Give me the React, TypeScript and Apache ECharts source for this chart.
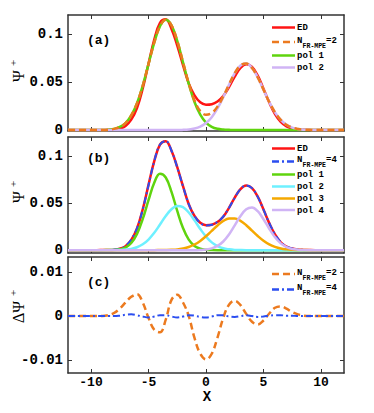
import React, { useEffect, useRef } from "react";
import * as echarts from "echarts";

// x grid (step 0.5)
const xs = [-12,-11.5,-11,-10.5,-10,-9.5,-9,-8.5,-8,-7.5,-7,-6.5,-6,-5.5,-5,-4.5,-4,-3.5,-3,-2.5,-2,-1.5,-1,-0.5,0,0.5,1,1.5,2,2.5,3,3.5,4,4.5,5,5.5,6,6.5,7,7.5,8,8.5,9,9.5,10,10.5,11,11.5,12];

// exact diagonalization
const ed = [0,0,0,0,0,0,0.0001,0.0002,0.0005,0.0015,0.0042,0.0108,0.0230,0.0434,0.0692,0.0944,0.1119,0.1155,0.1055,0.0880,0.0678,0.0487,0.0362,0.0290,0.0265,0.0270,0.0298,0.0355,0.0449,0.0558,0.0648,0.0685,0.0658,0.0567,0.0431,0.0287,0.0166,0.0084,0.0038,0.0017,0.0007,0.0003,0.0001,0,0,0,0,0,0];
// FR-MPE with 2 polarons, panel (a)
const n2 = [0,0,0,0,0,0,0.0001,0.0004,0.0012,0.0032,0.0073,0.0152,0.0280,0.0464,0.0688,0.0913,0.1083,0.1150,0.1093,0.0929,0.0709,0.0487,0.0309,0.0198,0.0160,0.0178,0.0245,0.0350,0.0475,0.0593,0.0673,0.0693,0.0647,0.0548,0.0421,0.0293,0.0185,0.0106,0.0055,0.0026,0.0011,0.0004,0.0002,0,0,0,0,0,0];
const aPol1 = [0,0,0,0,0,0,0.0001,0.0004,0.0012,0.0032,0.0073,0.0152,0.0280,0.0464,0.0688,0.0913,0.1083,0.1150,0.1093,0.0929,0.0707,0.0481,0.0293,0.0160,0.0078,0.0034,0.0013,0.0005,0.0002,0,0,0,0,0,0,0,0,0,0,0,0,0,0,0,0,0,0,0,0];
const aPol2 = [0,0,0,0,0,0,0,0,0,0,0,0,0,0,0,0,0,0,0,0,0.0002,0.0006,0.0016,0.0036,0.0073,0.0134,0.0225,0.0343,0.0473,0.0593,0.0673,0.0693,0.0647,0.0548,0.0421,0.0293,0.0185,0.0106,0.0055,0.0026,0.0011,0.0004,0.0002,0,0,0,0,0,0];
// FR-MPE with 4 polarons, panel (b)
const n4 = [0,0,0,0,0,0,0.0001,0.0002,0.0005,0.0016,0.0045,0.0112,0.0232,0.0433,0.0689,0.0943,0.1121,0.1157,0.1054,0.0877,0.0677,0.0489,0.0363,0.0288,0.0262,0.0269,0.0300,0.0357,0.0448,0.0556,0.0648,0.0687,0.0658,0.0565,0.0430,0.0288,0.0168,0.0086,0.0039,0.0018,0.0007,0.0003,0.0001,0,0,0,0,0,0];
const bPol1 = [0,0,0,0,0,0,0,0.0001,0.0002,0.0009,0.0028,0.0076,0.0173,0.0331,0.0530,0.0715,0.0810,0.0771,0.0618,0.0416,0.0235,0.0112,0.0045,0.0015,0.0004,0.0001,0,0,0,0,0,0,0,0,0,0,0,0,0,0,0,0,0,0,0,0,0,0,0];
const bPol2 = [0,0,0,0,0,0,0,0,0.0001,0.0002,0.0006,0.0014,0.0031,0.0062,0.0113,0.0184,0.0272,0.0362,0.0434,0.0469,0.0456,0.0400,0.0316,0.0225,0.0144,0.0083,0.0044,0.0020,0.0009,0.0003,0.0001,0,0,0,0,0,0,0,0,0,0,0,0,0,0,0,0,0,0];
const bPol3 = [0,0,0,0,0,0,0,0,0,0,0,0,0,0,0,0,0.0001,0.0002,0.0004,0.0008,0.0018,0.0034,0.0060,0.0098,0.0148,0.0205,0.0262,0.0309,0.0336,0.0337,0.0311,0.0265,0.0207,0.0150,0.0100,0.0061,0.0035,0.0018,0.0009,0.0004,0.0002,0.0001,0,0,0,0,0,0,0];
const bPol4 = [0,0,0,0,0,0,0,0,0,0,0,0,0,0,0,0,0,0,0,0,0,0,0,0.0002,0.0007,0.0019,0.0045,0.0092,0.0167,0.0263,0.0362,0.0434,0.0453,0.0413,0.0328,0.0227,0.0137,0.0072,0.0033,0.0013,0.0005,0.0001,0,0,0,0,0,0,0];
// differences to ED, panel (c)
const d2 = [0,0,0,0,0,0,0,0.0002,0.0007,0.0017,0.0031,0.0044,0.0050,0.0031,-0.0004,-0.0031,-0.0037,-0.0008,0.0037,0.0049,0.0031,0.0000,-0.0050,-0.0086,-0.0099,-0.0086,-0.0049,-0.0004,0.0026,0.0035,0.0025,0.0005,-0.0013,-0.0019,-0.0010,0.0006,0.0019,0.0022,0.0017,0.0009,0.0004,0.0001,0,0,0,0,0,0,0];
const d4 = [0,0,0,0,0,0,0,0,0,0.0001,0.0003,0.0004,0.0002,-0.0001,-0.0003,-0.0001,0.0002,0.0002,-0.0001,-0.0003,-0.0001,0.0002,0.0001,-0.0002,-0.0003,-0.0001,0.0002,0.0002,-0.0001,-0.0002,0.0000,0.0002,0.0000,-0.0002,-0.0001,0.0001,0.0002,0.0002,0.0001,0.0001,0,0,0,0,0,0,0,0,0];

const xTicks = [-10, -5, 0, 5, 10];
const psiTicks = [0, 0.05, 0.1];
const deltaTicks = [-0.01, 0, 0.01];

const RED = "#ff1414";
const ORANGE = "#ec7a1f";
const BLUE = "#2b4ef0";
const GREEN = "#5fd40e";
const LILAC = "#d0b4f5";
const CYAN = "#6ef0ff";
const GOLD = "#f5a800";
const FRAME = "#333";
const MONO = '"Liberation Mono", "DejaVu Sans Mono", monospace';

const zip = (v: number[]) => xs.map((x, i) => [x, v[i]]);

function line(name: string, vals: number[], g: number, color: string, width: number, dash?: number[]) {
  return {
    name,
    type: "line",
    xAxisIndex: 2 * g,
    yAxisIndex: 2 * g,
    data: zip(vals),
    smooth: 0.4,
    showSymbol: false,
    symbol: "none",
    lineStyle: { color, width, type: dash ? dash : "solid", cap: "butt" },
    silent: true,
  };
}

const grids = [
  { left: 68, top: 15, width: 276, height: 116 },
  { left: 68, top: 137, width: 276, height: 116 },
  { left: 68, top: 257, width: 276, height: 116 },
];
const yRanges = [
  [-0.001, 0.12],
  [-0.003, 0.12],
  [-0.013, 0.0135],
];

function xAxes() {
  const out: any[] = [];
  for (let g = 0; g < 3; g++) {
    for (const pos of ["bottom", "top"]) {
      out.push({
        type: "value",
        gridIndex: g,
        position: pos,
        min: -12,
        max: 12,
        splitLine: { show: false },
        axisLine: { show: true, onZero: false, lineStyle: { color: FRAME, width: 1.5 } },
        axisTick: { show: true, inside: true, length: 4, customValues: xTicks, lineStyle: { color: FRAME, width: 1 } },
        axisLabel: {
          show: g === 2 && pos === "bottom",
          customValues: xTicks,
          margin: 3,
          color: "#000",
          fontFamily: MONO,
          fontWeight: "bold",
          fontSize: 13,
          lineHeight: 13,
        },
      });
    }
  }
  return out;
}

function yAxes() {
  const out: any[] = [];
  for (let g = 0; g < 3; g++) {
    const ticks = g === 2 ? deltaTicks : psiTicks;
    for (const pos of ["left", "right"]) {
      out.push({
        type: "value",
        gridIndex: g,
        position: pos,
        min: yRanges[g][0],
        max: yRanges[g][1],
        splitLine: { show: false },
        axisLine: { show: true, onZero: false, lineStyle: { color: FRAME, width: 1.5 } },
        axisTick: { show: true, inside: true, length: 4, customValues: ticks, lineStyle: { color: FRAME, width: 1 } },
        axisLabel: {
          show: pos === "left",
          customValues: ticks,
          margin: 5,
          color: "#000",
          fontFamily: MONO,
          fontWeight: "bold",
          fontSize: 14,
          formatter: (v: number) => (Math.abs(v) < 1e-12 ? "0" : String(v)),
        },
      });
    }
  }
  return out;
}

function txt(x: number, y: number, text: string, font: string, align = "left", rotation = 0) {
  return {
    type: "text",
    x,
    y,
    rotation,
    silent: true,
    style: {
      text,
      font,
      fill: "#000",
      align,
      verticalAlign: "middle",
      textAlign: align,
      textVerticalAlign: "middle",
    },
  };
}

function legLine(y: number, color: string, dash?: number[]) {
  return {
    type: "line",
    silent: true,
    shape: { x1: 272, y1: y, x2: 295, y2: y },
    style: { stroke: color, lineWidth: 2.5, lineDash: dash || null },
  };
}

const LF = `bold 9px ${MONO}`;
const SF = `bold 6.5px ${MONO}`;

function nLabel(y: number, n: string) {
  return [
    txt(297, y - 1.5, "N", LF),
    txt(302.6, y + 4, "FR-MPE", SF),
    txt(326, y - 1.5, "=" + n, LF),
  ];
}

const DASH2 = [7, 4];
const DASH4 = [7, 3, 2, 3];

const graphic: any[] = [
  // panel labels
  txt(87, 40, "(a)", `bold 13px ${MONO}`),
  txt(87, 158, "(b)", `bold 13px ${MONO}`),
  txt(87, 282, "(c)", `bold 13px ${MONO}`),
  // y titles
  txt(18, 76, "Ψ", '16px "Liberation Serif"', "center", Math.PI / 2),
  txt(13, 63, "+", '11px "Liberation Serif"', "center", Math.PI / 2),
  txt(18, 197, "Ψ", '16px "Liberation Serif"', "center", Math.PI / 2),
  txt(13, 184, "+", '11px "Liberation Serif"', "center", Math.PI / 2),
  txt(18, 312, "ΔΨ", '16px "Liberation Serif"', "center", Math.PI / 2),
  txt(13, 293, "+", '11px "Liberation Serif"', "center", Math.PI / 2),
  // x title
  txt(207, 397, "X", `bold 14px ${MONO}`, "center"),
  // legend (a)
  legLine(27.5, RED),
  txt(297, 27.5, "ED", LF),
  legLine(42, ORANGE, DASH2),
  ...nLabel(42, "2"),
  legLine(55.5, GREEN),
  txt(297, 56, "pol 1", LF),
  legLine(67.5, LILAC),
  txt(297, 68, "pol 2", LF),
  // legend (b)
  legLine(148.5, RED),
  txt(297, 148.5, "ED", LF),
  legLine(161.5, BLUE, DASH4),
  ...nLabel(161.5, "4"),
  legLine(174.5, GREEN),
  txt(297, 175, "pol 1", LF),
  legLine(186.5, CYAN),
  txt(297, 187, "pol 2", LF),
  legLine(198.5, GOLD),
  txt(297, 199, "pol 3", LF),
  legLine(210, LILAC),
  txt(297, 210.5, "pol 4", LF),
  // legend (c)
  legLine(274, ORANGE, DASH2),
  ...nLabel(274, "2"),
  legLine(289.5, BLUE, DASH4),
  ...nLabel(289.5, "4"),
];

export default function App() {
  const ref = useRef<HTMLDivElement>(null);
  useEffect(() => {
    if (!ref.current) return;
    const chart = echarts.init(ref.current, undefined, { renderer: "svg" });
    chart.setOption({
      animation: false,
      backgroundColor: "#fff",
      grid: grids,
      xAxis: xAxes(),
      yAxis: yAxes(),
      series: [
        line("ED", ed, 0, RED, 2.5),
        line("pol 1", aPol1, 0, GREEN, 2.5),
        line("pol 2", aPol2, 0, LILAC, 2.5),
        line("N=2", n2, 0, ORANGE, 2.5, DASH2),
        line("ED", ed, 1, RED, 2.5),
        line("N=4", n4, 1, BLUE, 2, DASH4),
        line("pol 1", bPol1, 1, GREEN, 2.5),
        line("pol 2", bPol2, 1, CYAN, 2.5),
        line("pol 3", bPol3, 1, GOLD, 2.5),
        line("pol 4", bPol4, 1, LILAC, 2.5),
        line("N=2", d2, 2, ORANGE, 2.5, DASH2),
        line("N=4", d4, 2, BLUE, 2, DASH4),
      ],
      graphic,
    });
    return () => chart.dispose();
  }, []);
  return (
    <div
      ref={ref}
      style={{ position: "fixed", left: 0, top: 0, width: 374, height: 413, background: "#fff" }}
    />
  );
}
